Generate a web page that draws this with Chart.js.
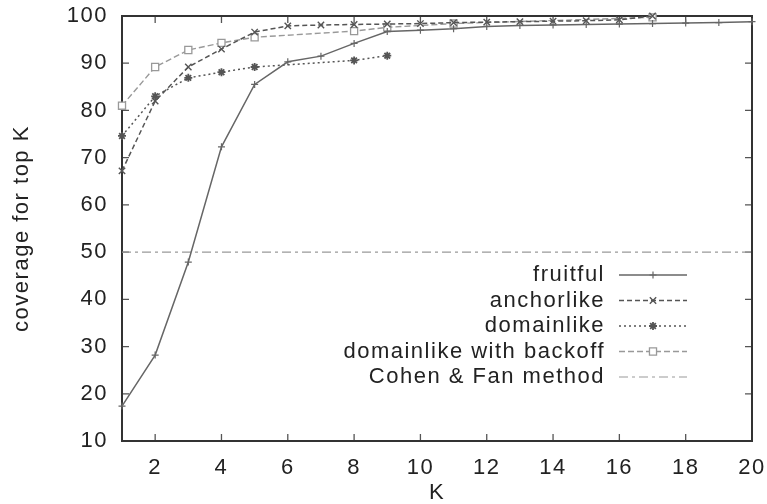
<!DOCTYPE html>
<html>
<head>
<meta charset="utf-8">
<title>coverage for top K</title>
<script src="https://cdn.jsdelivr.net/npm/chart.js@4.4.1/dist/chart.umd.min.js"></script>
<style>
  html, body { margin: 0; padding: 0; background: #fff; }
  canvas { display: block; }
</style>
</head>
<body>
<canvas id="coverageChart" width="767" height="504"></canvas>
<script>
// K values and coverage (%) per method
const kFruitful = [1, 2, 3, 4, 5, 6, 7, 8, 9, 10, 11, 12, 13, 14, 15, 16, 17, 18, 19, 20];
const fruitful = [17.4, 28.2, 47.9, 72.3, 85.5, 90.3, 91.5, 94.2, 96.7, 97.0, 97.3, 97.8, 98.0, 98.1, 98.2, 98.3, 98.4, 98.5, 98.6, 98.8];

const kAnchor = [1, 2, 3, 4, 5, 6, 7, 8, 9, 10, 11, 12, 13, 14, 15, 16, 17];
const anchorlike = [67.2, 82.0, 89.2, 93.0, 96.6, 97.9, 98.1, 98.2, 98.3, 98.4, 98.6, 98.7, 98.8, 98.9, 99.0, 99.2, 100];

const kDomain = [1, 2, 3, 4, 5, 8, 9];
const domainlike = [74.6, 83.0, 86.9, 88.1, 89.2, 90.6, 91.6];

const kBackoff = [1, 2, 3, 4, 5, 8, 9, 11, 17];
const backoff = [81.0, 89.2, 92.8, 94.3, 95.5, 96.8, 97.6, 98.4, 99.7];

const kCohen = [1, 20];
const cohenFan = [50, 50];

const xTicks = [2, 4, 6, 8, 10, 12, 14, 16, 18, 20];
const yTicks = [10, 20, 30, 40, 50, 60, 70, 80, 90, 100];

const FONT = { family: '"Liberation Sans", Arial, sans-serif', size: 22 };

function pts(xs, ys) {
    return xs.map((x, i) => ({ x: x, y: ys[i] }));
}

// labels may hang over the edges, the layout padding already leaves room
function noOverflow(s) {
    s.paddingTop = 0;
    s.paddingBottom = 0;
    s.paddingLeft = 0;
    s.paddingRight = 0;
}

// gnuplot style box: frame plus inward ticks mirrored on all sides
const framePlugin = {
    id: 'frame',
    beforeDraw(chart) {
        chart.ctx.letterSpacing = '1.5px';
    },
    beforeDatasetsDraw(chart) {
        const { ctx, chartArea: a, scales } = chart;
        const len = 7;
        ctx.save();
        ctx.strokeStyle = '#555';
        ctx.lineWidth = 1.3;
        ctx.beginPath();
        xTicks.forEach(v => {
            const x = scales.x.getPixelForValue(v);
            ctx.moveTo(x, a.bottom); ctx.lineTo(x, a.bottom - len);
            ctx.moveTo(x, a.top); ctx.lineTo(x, a.top + len);
        });
        yTicks.forEach(v => {
            const y = scales.y.getPixelForValue(v);
            ctx.moveTo(a.left, y); ctx.lineTo(a.left + len, y);
            ctx.moveTo(a.right, y); ctx.lineTo(a.right - len, y);
        });
        ctx.stroke();
        ctx.strokeStyle = '#333';
        ctx.lineWidth = 2;
        ctx.strokeRect(a.left, a.top, a.right - a.left, a.bottom - a.top);
        ctx.restore();
    },
    afterDraw(chart) {
        // key inside the plot: text on the left, sample on the right
        const ctx = chart.ctx;
        ctx.save();
        ctx.font = '22px ' + FONT.family;
        ctx.letterSpacing = '1.5px';
        ctx.textAlign = 'right';
        ctx.textBaseline = 'middle';
        chart.data.datasets.forEach((ds, i) => {
            const y = 275 + i * 25.5;
            ctx.fillStyle = '#222';
            ctx.fillText(ds.label, 605, y);
            ctx.strokeStyle = ds.borderColor;
            ctx.lineWidth = ds.borderWidth;
            ctx.setLineDash(ds.borderDash || []);
            ctx.beginPath();
            ctx.moveTo(619, y);
            ctx.lineTo(687, y);
            ctx.stroke();
            ctx.setLineDash([]);
            if (ds.pointRadius > 0) {
                ctx.fillStyle = ds.pointBackgroundColor;
                ctx.strokeStyle = ds.borderColor;
                ctx.lineWidth = ds.pointBorderWidth;
                Chart.helpers.drawPoint(ctx, {
                    pointStyle: ds.pointStyle, radius: ds.pointRadius,
                    rotation: 0, borderWidth: ds.pointBorderWidth
                }, 653, y);
            }
        });
        ctx.restore();
    }
};

new Chart(document.getElementById('coverageChart').getContext('2d'), {
    type: 'line',
    data: {
        datasets: [
            {
                label: 'fruitful',
                data: pts(kFruitful, fruitful),
                borderColor: '#666', borderWidth: 1.5,
                pointStyle: 'cross', pointRadius: 3.5, pointBorderWidth: 1.2,
                pointBackgroundColor: '#fff', clip: false
            },
            {
                label: 'anchorlike',
                data: pts(kAnchor, anchorlike),
                borderColor: '#555', borderWidth: 1.5, borderDash: [5, 3],
                pointStyle: 'crossRot', pointRadius: 4.5, pointBorderWidth: 1.4,
                pointBackgroundColor: '#fff', clip: false
            },
            {
                label: 'domainlike',
                data: pts(kDomain, domainlike),
                borderColor: '#555', borderWidth: 1.5, borderDash: [2, 3],
                pointStyle: 'star', pointRadius: 4, pointBorderWidth: 1.8,
                pointBackgroundColor: '#fff', clip: false
            },
            {
                label: 'domainlike with backoff',
                data: pts(kBackoff, backoff),
                borderColor: '#999', borderWidth: 1.4, borderDash: [6, 3],
                pointStyle: 'rect', pointRadius: 5, pointBorderWidth: 1.3,
                pointBackgroundColor: '#fff', clip: false
            },
            {
                label: 'Cohen & Fan method',
                data: pts(kCohen, cohenFan),
                borderColor: '#999', borderWidth: 1.2, borderDash: [9, 4, 3, 4],
                pointRadius: 0, pointBorderWidth: 0, clip: false
            }
        ]
    },
    options: {
        responsive: false,
        animation: false,
        layout: { padding: { top: 16, right: 15, bottom: 0, left: 0 } },
        plugins: { legend: { display: false }, tooltip: { enabled: false } },
        elements: { line: { tension: 0 } },
        scales: {
            x: {
                type: 'linear', min: 1, max: 20,
                grid: { display: false, drawTicks: false },
                border: { display: false },
                afterBuildTicks: s => { s.ticks = xTicks.map(v => ({ value: v })); },
                afterFit: s => { s.height = 63; noOverflow(s); },
                ticks: { font: FONT, color: '#222', padding: 14, maxRotation: 0 },
                title: { display: true, text: 'K', font: FONT, color: '#222', padding: { top: 0, bottom: -2 } }
            },
            y: {
                type: 'linear', min: 10, max: 100,
                grid: { display: false, drawTicks: false },
                border: { display: false },
                afterBuildTicks: s => { s.ticks = yTicks.map(v => ({ value: v })); },
                afterFit: s => { s.width = 122; noOverflow(s); },
                ticks: { font: FONT, color: '#222', padding: 14 },
                title: { display: true, text: 'coverage for top K', font: FONT, color: '#222', padding: { top: 9, bottom: 0 } }
            }
        }
    },
    plugins: [framePlugin]
});
</script>
</body>
</html>
